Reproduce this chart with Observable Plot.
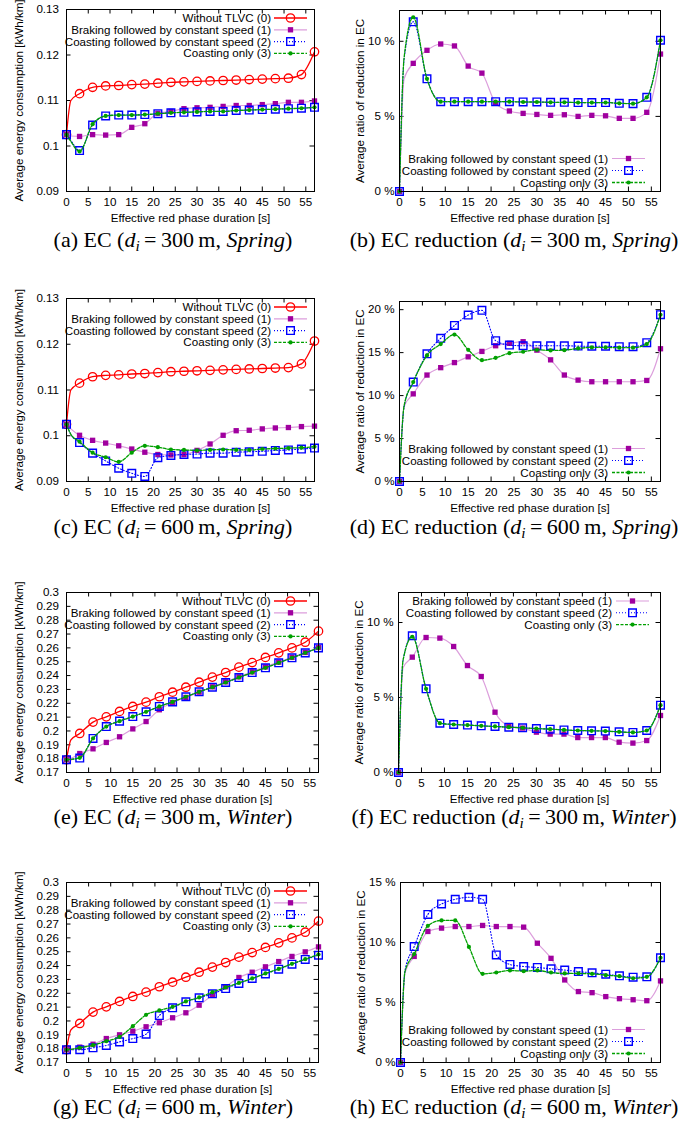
<!DOCTYPE html>
<html><head><meta charset="utf-8">
<script src="https://cdn.jsdelivr.net/npm/d3@7"></script>
<script src="https://cdn.jsdelivr.net/npm/@observablehq/plot@0.6"></script>
<style>
body{margin:0;background:#fff;}
#root{position:relative;width:699px;height:1136px;overflow:hidden;font-family:"Liberation Sans",Arial,sans-serif;}
.panel{position:absolute;}
.cap{position:absolute;font-family:"Liberation Serif","Times New Roman",serif;font-size:22px;line-height:1;white-space:nowrap;transform:translate(-50%,-50%);color:#000;}
.cap sub{font-size:0.7em;vertical-align:-0.25em;line-height:0;}
</style></head><body><div id="root"></div>
<script>
// ---------- data ----------
const xs = [0,3,6,9,12,15,18,21,24,27,30,33,36,39,42,45,48,51,54,57];
const xTicks = [0,5,10,15,20,25,30,35,40,45,50,55];
const seriesNames = ["Without TLVC (0)","Braking followed by constant speed (1)","Coasting followed by constant speed (2)","Coasting only (3)"];
const xTitle = "Effective red phase duration [s]";
const ecTitle = "Average energy consumption [kWh/km]";
const redTitle = "Average ratio of reduction in EC";

const ecTicksSpring = [0.09,0.10,0.11,0.12,0.13];
const ecTicksWinter = [0.17,0.18,0.19,0.20,0.21,0.22,0.23,0.24,0.25,0.26,0.27,0.28,0.29,0.30];
const pctTicks12 = [0,5,10];
const pctTicks20 = [0,5,10,15,20];
const pctTicks15 = [0,5,10,15];

// Without TLVC (0)
const ecSpringNone = [0.1025,0.1115,0.1129,0.1132,0.1133,0.1135,0.1136,0.1138,0.1140,0.1141,0.1142,0.1143,0.1144,0.1145,0.1146,0.1147,0.1148,0.1149,0.1157,0.1207];
const ecWinterNone = [0.1792,0.1982,0.2064,0.2102,0.2141,0.2177,0.2208,0.2247,0.2280,0.2316,0.2352,0.2389,0.2422,0.2461,0.2494,0.2531,0.2564,0.2600,0.2641,0.2721];

// (a) 300 m, Spring
const ecA1 = [0.1025,0.1021,0.1025,0.1024,0.1025,0.1041,0.1049,0.1072,0.1076,0.1082,0.1084,0.1085,0.1087,0.1089,0.1089,0.1091,0.1093,0.1096,0.1096,0.1099];
const ecA2 = [0.1025,0.0990,0.1046,0.1066,0.1068,0.1068,0.1069,0.1071,0.1073,0.1074,0.1075,0.1076,0.1076,0.1078,0.1079,0.1080,0.1081,0.1082,0.1083,0.1085];
const ecA3 = [0.1025,0.0988,0.1048,0.1066,0.1068,0.1068,0.1069,0.1071,0.1073,0.1074,0.1075,0.1076,0.1076,0.1078,0.1079,0.1080,0.1081,0.1082,0.1083,0.1085];
// (b)
const redB1 = [0,8.53,9.40,9.82,9.69,8.35,7.88,5.87,5.36,5.20,5.13,5.07,5.11,5.00,5.07,5.04,4.87,4.87,5.27,9.15];
const redB2 = [0,11.3,7.5,5.98,5.98,5.98,5.98,5.98,5.98,5.96,5.96,5.94,5.94,5.92,5.92,5.92,5.87,5.85,6.27,10.07];
const redB3 = [0,11.6,7.5,5.98,5.98,5.98,5.98,5.98,5.98,5.96,5.96,5.94,5.94,5.92,5.92,5.92,5.87,5.85,6.27,10.07];
// (c) 600 m, Spring
const ecC1 = [0.1025,0.1001,0.0990,0.0984,0.0978,0.0971,0.0964,0.0959,0.0958,0.0959,0.0968,0.0982,0.1001,0.1011,0.1012,0.1015,0.1017,0.1018,0.1020,0.1021];
const ecC2 = [0.1025,0.0985,0.0962,0.0945,0.0929,0.0918,0.0911,0.0952,0.0957,0.0959,0.0960,0.0962,0.0962,0.0964,0.0965,0.0966,0.0968,0.0969,0.0971,0.0973];
const ecC3 = [0.1025,0.0987,0.0963,0.0953,0.0943,0.0963,0.0978,0.0975,0.0970,0.0969,0.0968,0.0969,0.0970,0.0969,0.0969,0.0971,0.0972,0.0973,0.0974,0.0976];
// (d)
const redD1 = [0,10.2,12.39,13.25,13.84,14.51,15.14,15.8,16.08,16.27,15.29,14.16,12.39,11.8,11.61,11.61,11.61,11.61,11.76,15.45];
const redD2 = [0,11.57,14.86,16.67,18.16,19.37,19.92,16.39,15.88,15.8,15.8,15.8,15.8,15.76,15.74,15.74,15.69,15.69,16.16,19.41];
const redD3 = [0,11.57,14.67,16.0,17.1,15.33,14.12,14.39,14.94,15.1,15.33,15.25,15.29,15.49,15.61,15.61,15.57,15.57,16.0,19.41];
// (e) 300 m, Winter
const ecE1 = [0.1792,0.1837,0.1871,0.1917,0.1958,0.2015,0.2068,0.2153,0.2206,0.2242,0.2280,0.2319,0.2355,0.2391,0.2427,0.2463,0.2497,0.2531,0.2567,0.2603];
const ecE2 = [0.1792,0.1804,0.1946,0.2032,0.2071,0.2104,0.2138,0.2177,0.2210,0.2247,0.2283,0.2316,0.2350,0.2386,0.2422,0.2456,0.2492,0.2528,0.2564,0.2600];
const ecE3 = [0.1792,0.1806,0.1946,0.2032,0.2071,0.2104,0.2138,0.2177,0.2210,0.2247,0.2283,0.2316,0.2350,0.2386,0.2422,0.2456,0.2492,0.2528,0.2564,0.2600];
// (f)
const redF1 = [0,7.69,9.0,8.96,8.4,7.13,6.4,4.02,3.11,2.96,2.69,2.56,2.56,2.33,2.33,2.33,2.02,1.96,2.13,3.8];
const redF2 = [0,9.11,5.58,3.29,3.2,3.16,3.11,3.07,3.02,2.98,2.93,2.89,2.84,2.8,2.78,2.76,2.71,2.67,2.8,4.49];
const redF3 = [0,9.05,5.58,3.29,3.2,3.16,3.11,3.07,3.02,2.98,2.93,2.89,2.84,2.8,2.78,2.76,2.71,2.67,2.8,4.49];
// (g) 600 m, Winter
const ecG1 = [0.1792,0.1811,0.1832,0.1873,0.1900,0.1926,0.1958,0.1987,0.2023,0.2059,0.2114,0.2186,0.2247,0.2314,0.2352,0.2391,0.2429,0.2466,0.2499,0.2535];
const ecG2 = [0.1792,0.1792,0.1806,0.1823,0.1849,0.1873,0.1905,0.2039,0.2095,0.2138,0.2167,0.2196,0.2234,0.2271,0.2307,0.2340,0.2374,0.2410,0.2444,0.2475];
const ecG3 = [0.1792,0.1806,0.1825,0.1854,0.1885,0.1962,0.2044,0.2076,0.2102,0.2141,0.2170,0.2208,0.2242,0.2275,0.2307,0.2343,0.2376,0.2413,0.2446,0.2480];
// (h)
const redH1 = [0,8.84,10.92,11.2,11.33,11.33,11.42,11.33,11.33,11.28,9.94,8.68,6.88,5.91,5.82,5.49,5.32,5.23,5.15,6.8];
const redH2 = [0,9.66,12.34,13.21,13.6,13.77,13.6,8.96,8.17,8.0,7.92,7.81,7.7,7.58,7.47,7.36,7.22,7.11,7.14,8.73];
const redH3 = [0,9.04,11.39,11.84,11.84,9.63,7.39,7.5,7.67,7.61,7.67,7.5,7.42,7.42,7.39,7.28,7.19,7.02,7.14,8.73];

// line values read at x = 1 s (lines are drawn at finer resolution than the markers)
const at1A = [0.1100,0.1022,0.1012,0.1010];
const at1B = [7.5,8.8,8.9];
const at1C = [0.1100,0.1015,0.1003,0.1003];
const at1D = [8.7,8.7,8.8];
const at1E = [0.1935,0.1802,0.1795,0.1795];
const at1F = [7.0,7.5,7.5];
const at1G = [0.1935,0.1795,0.1792,0.1795];
const at1H = [7.5,7.7,7.6];

// captions
const capLetters = ["a","b","c","d","e","f","g","h"];
const capKinds = ["EC","EC reduction","EC","EC reduction","EC","EC reduction","EC","EC reduction"];
const capDist = ["300","300","600","600","300","300","600","600"];
const capSeason = ["Spring","Spring","Spring","Spring","Winter","Winter","Winter","Winter"];

// ---------- styles ----------
const FS = 11.6;
const FONT = '"Liberation Sans", Arial, sans-serif';
const markColors = ["#ff0000","#a0009f","#0000ff","#00a000"];
const lineColors = ["#ff0000","#dc9edc","#0000ff","#00a000"];
const lineWidths = [1.3,1.2,1.1,1.3];
const dashes = [null,null,"1,2","3,1.5"];
const radii = [4.2,3.0,4.3,2.1];
function dotStyle(si){
  if (si===0) return {symbol:"circle", r:radii[0], fill:"none", stroke:markColors[0], strokeWidth:1.3};
  if (si===1) return {symbol:"square", r:radii[1], fill:markColors[1], stroke:"none"};
  if (si===2) return {symbol:"square", r:radii[2], fill:"none", stroke:markColors[2], strokeWidth:1.4};
  return {symbol:"circle", r:radii[3], fill:markColors[3], stroke:"none"};
}
const fmtEC = d => String(+d.toFixed(2));
const fmtPct = d => d + " %";

const panels = [
 {col:0, frame:[66,9,314,191], yDomain:[0.09,0.13], yTicks:ecTicksSpring, fmt:fmtEC, first:0, series:[ecSpringNone,ecA1,ecA2,ecA3], at1:at1A, legend:{pos:"top", textEnd:-43, line:[-40,-7]}},
 {col:1, frame:[399,10,660,191], yDomain:[0,12.05], yTicks:pctTicks12, fmt:fmtPct, first:1, series:[redB1,redB2,redB3], at1:at1B, legend:{pos:"bottom", textEnd:-52, line:[-48,-15]}},
 {col:0, frame:[66,298,314,481], yDomain:[0.09,0.13], yTicks:ecTicksSpring, fmt:fmtEC, first:0, series:[ecSpringNone,ecC1,ecC2,ecC3], at1:at1C, legend:{pos:"top", textEnd:-43, line:[-40,-7]}},
 {col:1, frame:[399,301,660,481], yDomain:[0,20.95], yTicks:pctTicks20, fmt:fmtPct, first:1, series:[redD1,redD2,redD3], at1:at1D, legend:{pos:"bottom", textEnd:-52, line:[-48,-15]}},
 {col:0, frame:[66,592,318,772], yDomain:[0.17,0.30], yTicks:ecTicksWinter, fmt:fmtEC, first:0, series:[ecWinterNone,ecE1,ecE2,ecE3], at1:at1E, legend:{pos:"top", textEnd:-47.5, line:[-44,-11]}},
 {col:1, frame:[398,592,660,772], yDomain:[0,12], yTicks:pctTicks12, fmt:fmtPct, first:1, series:[redF1,redF2,redF3], at1:at1F, legend:{pos:"top", textEnd:-48, line:[-44,-11]}},
 {col:0, frame:[66,882,318,1062], yDomain:[0.17,0.30], yTicks:ecTicksWinter, fmt:fmtEC, first:0, series:[ecWinterNone,ecG1,ecG2,ecG3], at1:at1G, legend:{pos:"top", textEnd:-47.5, line:[-44,-11]}},
 {col:1, frame:[400,882,660,1062], yDomain:[0,15], yTicks:pctTicks15, fmt:fmtPct, first:1, series:[redH1,redH2,redH3], at1:at1H, legend:{pos:"bottom", textEnd:-52, line:[-48,-15]}}
];
const capCentersX = [173,514];
const capCentersY = [240,527,817,1107];

const root = document.getElementById("root");

panels.forEach((p, pi) => {
  const isLeft = p.col === 0;
  const svgLeft = isLeft ? 0 : 345;
  const svgW = isLeft ? 345 : 354;
  const [fx0, fy0, fx1, fy1] = p.frame;
  const mT = 14, mB = 40;
  const fw = fx1 - fx0, fh = fy1 - fy0;
  const mL = fx0 - svgLeft, mR = svgLeft + svgW - fx1;
  const H = fh + mT + mB;
  const svgTop = fy0 - mT;
  const marks = [];

  // ticks (inward, mirrored on all sides)
  marks.push(Plot.tickX(xTicks, {x: d => d, insetTop: fh - 4.5, stroke: "#000", strokeWidth: 1}));
  marks.push(Plot.tickX(xTicks, {x: d => d, insetBottom: fh - 4.5, stroke: "#000", strokeWidth: 1}));
  marks.push(Plot.tickY(p.yTicks, {y: d => d, insetRight: fw - 4.5, stroke: "#000", strokeWidth: 1}));
  marks.push(Plot.tickY(p.yTicks, {y: d => d, insetLeft: fw - 4.5, stroke: "#000", strokeWidth: 1}));
  marks.push(Plot.axisX({ticks: xTicks, tickSize: 0, tickPadding: 6.5, label: null, tickFormat: d => String(d)}));
  marks.push(Plot.axisY({ticks: p.yTicks, tickSize: 0, tickPadding: isLeft ? 7.5 : 5, label: null, tickFormat: p.fmt}));
  marks.push(Plot.text([isLeft ? ecTitle : redTitle], {text: d => d, frameAnchor: "left", textAnchor: "middle", lineAnchor: "middle", dx: isLeft ? -47 : -39.5, rotate: -90}));
  marks.push(Plot.text([xTitle], {text: d => d, frameAnchor: "bottom", textAnchor: "middle", lineAnchor: "middle", dy: 26.5}));

  p.series.forEach((vals, k) => {
    const si = p.first + k;
    const pts = xs.map((x, i) => ({x, y: vals[i]}));
    const linePts = [pts[0], {x: 1, y: p.at1[k]}, ...pts.slice(1)];
    marks.push(Plot.line(linePts, {x: "x", y: "y", stroke: lineColors[si], strokeWidth: lineWidths[si], strokeDasharray: dashes[si], curve: "monotone-x"}));
    marks.push(Plot.dot(pts, {x: "x", y: "y", ...dotStyle(si)}));
  });
  marks.push(Plot.frame({stroke: "#000", strokeWidth: 1}));

  const svg = Plot.plot({
    width: svgW, height: H,
    marginLeft: mL, marginRight: mR, marginTop: mT, marginBottom: mB,
    x: {domain: [0, 57]},
    y: {domain: p.yDomain},
    style: {fontSize: FS + "px", fontFamily: FONT, background: "transparent", overflow: "visible", color: "#000"},
    marks
  });

  // legend (gnuplot key)
  const g = d3.select(svg).append("g").attr("font-size", FS).attr("font-family", FONT);
  const rx = fx1 - svgLeft;
  const n = p.series.length;
  for (let k = 0; k < n; k++) {
    const si = p.first + k;
    const yy = p.legend.pos === "top" ? (mT + 9 + k * 11.8) : (mT + fh - 32.5 + k * 12);
    g.append("text").attr("x", rx + p.legend.textEnd).attr("y", yy).attr("dy", "0.35em")
      .attr("text-anchor", "end").attr("fill", "#000").text(seriesNames[si]);
    const ln = g.append("line").attr("x1", rx + p.legend.line[0]).attr("x2", rx + p.legend.line[1])
      .attr("y1", yy).attr("y2", yy).attr("stroke", lineColors[si]).attr("stroke-width", lineWidths[si]);
    if (dashes[si]) ln.attr("stroke-dasharray", dashes[si]);
    const cx = rx + (p.legend.line[0] + p.legend.line[1]) / 2;
    const ds = dotStyle(si);
    const sym = ds.symbol === "square" ? d3.symbolSquare : d3.symbolCircle;
    g.append("path").attr("d", d3.symbol(sym, ds.r * ds.r * Math.PI)())
      .attr("transform", `translate(${cx},${yy})`)
      .attr("fill", ds.fill).attr("stroke", ds.stroke).attr("stroke-width", ds.strokeWidth || 0);
  }

  const div = document.createElement("div");
  div.className = "panel";
  div.style.left = svgLeft + "px";
  div.style.top = svgTop + "px";
  div.appendChild(svg);
  root.appendChild(div);

  const cap = document.createElement("div");
  cap.className = "cap";
  cap.style.left = capCentersX[p.col] + "px";
  cap.style.top = capCentersY[Math.floor(pi / 2)] + "px";
  cap.innerHTML = `(${capLetters[pi]}) ${capKinds[pi]} (<i>d</i><sub><i>i</i></sub>&#8201;=&#8201;${capDist[pi]}&#8201;m, <i>${capSeason[pi]}</i>)`;
  root.appendChild(cap);
});
</script>
</body></html>
